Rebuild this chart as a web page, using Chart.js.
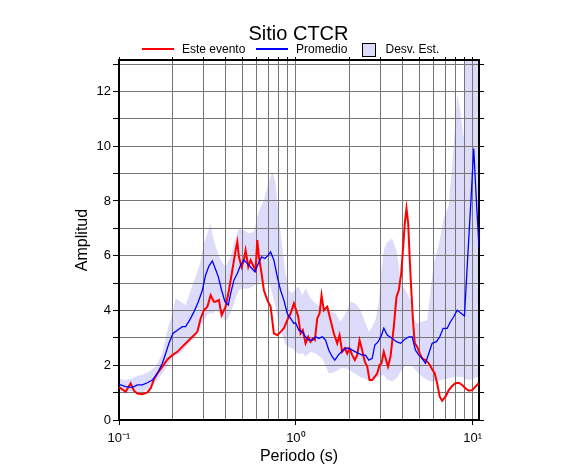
<!DOCTYPE html>
<html>
<head>
<meta charset="utf-8">
<script src="https://cdn.jsdelivr.net/npm/chart.js@4.4.0/dist/chart.umd.min.js"></script>
<style>
html,body{margin:0;padding:0;background:#fff;}
#wrap{width:586px;height:475px;position:relative;}
</style>
</head>
<body>
<div id="wrap"><canvas id="c" width="586" height="475"></canvas></div>
<script>
// ---------------- DATA ----------------
const chartTitle = 'Sitio CTCR';
const xTitle = 'Periodo (s)';
const yTitle = 'Amplitud';
const legendLabels = ['Este evento', 'Promedio', 'Desv. Est.'];

const xMin = 0.1, xMax = 10.85;
const yMin = 0, yMax = 13.15;
const xTickValues = [0.1,0.2,0.3,0.4,0.5,0.6,0.7,0.8,0.9,1,2,3,4,5,6,7,8,9,10];
const xMajorValues = [0.1, 1, 10];
const xMajorLabels = ['10\u207B\u00B9', '10\u2070', '10\u00B9'];
const yTickValues = [0,1,2,3,4,5,6,7,8,9,10,11,12,13];

// Este evento (red)
const periodsRed = [0.1,0.109,0.1164,0.1215,0.127,0.1356,0.1447,0.1511,0.1577,0.1648,0.1759,0.1877,0.2003,0.2138,0.2282,0.2435,0.2599,0.2773,0.2894,0.3021,0.3158,0.3297,0.3441,0.3518,0.3673,0.3804,0.4008,0.4184,0.4373,0.4564,0.4666,0.4764,0.4934,0.5083,0.5196,0.5382,0.5546,0.5789,0.5919,0.6051,0.618,0.64,0.6595,0.6893,0.7196,0.7512,0.7852,0.8196,0.8554,0.894,0.9334,0.9743,0.996,1.0317,1.063,1.0953,1.1345,1.175,1.2107,1.2474,1.2804,1.321,1.3611,1.3969,1.4393,1.5044,1.5704,1.6394,1.7135,1.7655,1.8285,1.8915,1.9515,2.011,2.083,2.154,2.223,2.291,2.372,2.454,2.532,2.609,2.702,2.795,2.884,2.971,3.048,3.141,3.318,3.428,3.579,3.707,3.819,3.94,4.044,4.129,4.221,4.315,4.406,4.504,4.605,4.702,4.851,5.018,5.177,5.404,5.641,5.896,6.099,6.293,6.51,6.716,7.012,7.32,7.65,7.986,8.336,8.713,9.094,9.493,9.922,10.36,10.81];
const ampRed = [1.20,1.03,1.34,1.07,0.97,0.94,1.01,1.16,1.49,1.70,1.95,2.21,2.37,2.49,2.68,2.86,3.04,3.22,3.71,4.01,4.14,4.56,4.32,4.32,4.38,3.83,4.14,4.74,5.47,6.20,6.51,5.96,5.59,5.84,6.20,5.59,5.84,5.59,5.47,6.57,5.96,5.35,4.74,4.38,4.14,3.16,3.10,3.22,3.35,3.65,3.89,4.26,4.08,3.77,3.16,3.28,2.80,3.04,2.86,2.98,2.92,3.71,3.89,4.56,4.01,4.14,3.65,3.16,2.80,3.10,2.49,2.62,2.43,2.62,2.37,2.19,2.37,2.92,2.55,2.13,1.95,1.46,1.46,1.58,1.70,2.01,2.07,2.49,1.95,2.31,3.41,4.50,4.74,5.35,6.33,7.18,7.73,7.18,5.84,4.62,3.53,2.80,2.68,2.43,2.25,2.19,2.07,1.85,1.70,1.34,0.85,0.70,0.85,1.09,1.24,1.34,1.36,1.28,1.16,1.07,1.09,1.22,1.34];

// Promedio (blue)
const periodsBlue = [0.1,0.109,0.119,0.127,0.1356,0.1447,0.1544,0.1648,0.1759,0.1836,0.1916,0.2019,0.2138,0.2282,0.2381,0.2508,0.2653,0.2809,0.296,0.3089,0.3225,0.3371,0.3518,0.3644,0.3804,0.3971,0.4151,0.4277,0.4464,0.4666,0.487,0.5083,0.5312,0.5546,0.5865,0.6131,0.64,0.6682,0.6984,0.7196,0.7512,0.7852,0.8196,0.8554,0.894,0.9334,0.9743,0.996,1.0398,1.0869,1.1345,1.1842,1.2377,1.2918,1.349,1.4102,1.4719,1.536,1.6055,1.661,1.736,1.8123,1.9093,1.993,2.083,2.175,2.27,2.372,2.476,2.585,2.702,2.795,2.921,3.048,3.141,3.284,3.505,3.707,3.904,4.113,4.348,4.546,4.746,4.954,5.177,5.404,5.641,5.896,6.235,6.51,6.805,7.167,7.482,7.811,8.164,8.522,8.977,9.371,9.795,10.13,10.49,10.85];
const ampBlue = [1.30,1.22,1.19,1.28,1.28,1.36,1.46,1.70,2.07,2.43,2.80,3.16,3.28,3.41,3.41,3.65,3.95,4.32,4.74,5.30,5.62,5.81,5.50,5.23,4.74,4.32,4.20,4.62,5.11,5.35,5.66,5.84,5.72,5.59,5.41,5.72,5.96,5.90,6.02,6.14,5.84,5.23,4.74,4.38,3.89,3.71,3.53,3.55,3.28,3.22,3.04,2.92,2.92,3.04,2.98,3.04,2.92,2.55,2.31,2.19,2.37,2.49,2.62,2.62,2.55,2.49,2.43,2.37,2.37,2.19,2.25,2.74,2.86,3.10,3.35,3.10,2.98,2.86,2.80,2.94,3.04,3.04,2.55,2.37,2.25,2.07,2.43,2.80,2.86,3.04,3.35,3.35,3.59,3.77,4.01,3.92,3.80,5.96,8.15,9.92,8.0,6.3];

// Desv. Est. band
const periodsBand = [0.1,0.1091,0.119,0.127,0.1356,0.1477,0.1612,0.1759,0.1877,0.2003,0.2091,0.2232,0.2381,0.2541,0.2712,0.2894,0.3021,0.3158,0.3297,0.3397,0.3518,0.3755,0.4008,0.4277,0.4564,0.4764,0.5083,0.5425,0.5789,0.6051,0.6317,0.6595,0.6893,0.7196,0.7356,0.7681,0.8016,0.8378,0.8745,0.913,0.9543,0.996,1.0398,1.0869,1.1345,1.2107,1.2918,1.4102,1.536,1.6762,1.7886,1.9093,2.037,2.175,2.321,2.476,2.585,2.702,2.82,2.944,3.048,3.141,3.284,3.505,3.741,3.904,4.167,4.446,4.642,4.851,5.177,5.525,5.768,6.021,6.427,6.859,7.32,7.65,7.986,8.164,8.522,8.897,9.034,9.705,10.36,10.85];
const bandUpper = [1.52,1.46,1.52,1.62,1.64,1.76,1.95,2.43,3.28,3.89,4.44,4.32,4.20,4.74,5.23,5.78,6.45,6.80,7.18,6.69,6.33,5.84,5.59,5.96,6.69,6.99,6.93,6.81,6.87,7.42,7.78,8.03,8.51,8.88,9.06,8.64,7.30,6.33,5.35,4.74,4.62,4.81,4.87,4.56,4.81,4.44,4.26,4.08,4.01,3.89,3.59,3.89,4.32,4.26,4.01,3.53,3.22,3.41,3.65,4.32,5.47,6.20,6.50,6.63,6.09,4.99,4.74,4.38,3.65,3.53,3.59,3.65,4.74,5.72,6.40,7.40,7.85,9.31,10.89,11.92,11.25,10.28,15,15,15,15];
const bandLower = [1.05,1.05,1.05,1.00,1.00,1.15,1.40,1.70,2.00,2.25,2.37,2.45,2.65,2.85,3.04,3.40,3.62,3.85,3.92,3.89,4.00,3.90,3.59,3.90,4.45,4.75,4.80,4.80,4.90,4.95,5.05,5.05,5.00,4.87,4.60,4.10,3.50,3.10,2.75,2.65,2.62,2.50,2.40,2.45,2.31,2.49,2.43,2.25,1.70,1.76,1.89,1.89,1.80,1.68,1.56,1.50,1.46,1.50,1.52,1.58,1.62,1.64,1.48,1.42,1.55,1.76,2.00,2.00,1.90,1.76,1.58,1.46,1.42,1.40,1.44,1.48,1.52,1.56,1.58,1.58,1.58,1.55,1.50,1.46,1.55,1.58];

// ---------------- STYLE ----------------
const FONT = "'Liberation Sans', Arial, Helvetica, sans-serif";
const RED = '#ff0000', BLUE = '#0000ff', BAND = 'rgb(220,220,250)', GRID = '#767676';
Chart.defaults.font.family = FONT;
Chart.defaults.color = '#000';

function pts(xs, ys) { return xs.map((x, i) => ({x: x, y: ys[i]})); }
function isMajorX(v) { return xMajorValues.some(m => Math.abs(m - v) < 1e-9); }
function xLabel(v) {
  const i = xMajorValues.findIndex(m => Math.abs(m - v) < 1e-9);
  return i >= 0 ? xMajorLabels[i] : '';
}

const legendPlugin = {
  id: 'gmtLegend',
  afterDraw(chart) {
    const ctx = chart.ctx;
    ctx.save();
    ctx.font = '12px ' + FONT;
    ctx.fillStyle = '#000';
    ctx.textBaseline = 'alphabetic';
    ctx.textAlign = 'left';
    ctx.strokeStyle = RED; ctx.lineWidth = 2;
    ctx.beginPath(); ctx.moveTo(142, 49); ctx.lineTo(174, 49); ctx.stroke();
    ctx.fillText(legendLabels[0], 182, 53);
    ctx.strokeStyle = BLUE; ctx.lineWidth = 2;
    ctx.beginPath(); ctx.moveTo(256, 49); ctx.lineTo(288, 49); ctx.stroke();
    ctx.fillText(legendLabels[1], 296, 53);
    ctx.fillStyle = BAND;
    ctx.fillRect(362.5, 43.5, 13, 13);
    ctx.strokeStyle = '#000'; ctx.lineWidth = 1;
    ctx.strokeRect(362.5, 43.5, 13, 13);
    ctx.fillStyle = '#000';
    ctx.fillText(legendLabels[2], 385.5, 53);
    ctx.restore();
  }
};

new Chart(document.getElementById('c'), {
  type: 'line',
  data: {
    datasets: [
      { label: 'upper', data: pts(periodsBand, bandUpper), borderWidth: 0, borderColor: 'transparent',
        pointRadius: 0, fill: '+1', backgroundColor: BAND, tension: 0 },
      { label: 'lower', data: pts(periodsBand, bandLower), borderWidth: 0, borderColor: 'transparent',
        pointRadius: 0, fill: false, tension: 0 },
      { label: legendLabels[1], data: pts(periodsBlue, ampBlue), borderColor: BLUE, borderWidth: 1.3,
        pointRadius: 0, fill: false, tension: 0 },
      { label: legendLabels[0], data: pts(periodsRed, ampRed), borderColor: RED, borderWidth: 2,
        pointRadius: 0, fill: false, tension: 0 }
    ]
  },
  options: {
    responsive: false,
    animation: false,
    devicePixelRatio: 1,
    events: [],
    layout: { padding: { left: 11, right: 0, top: 0, bottom: 0 } },
    plugins: {
      legend: { display: false },
      tooltip: { enabled: false },
      filler: { drawTime: 'beforeDraw' },
      title: {
        display: true, text: chartTitle, color: '#000',
        font: { size: 20, weight: 'normal', family: FONT, lineHeight: 1.2 },
        padding: { top: 22, bottom: 14 }
      }
    },
    scales: {
      x: {
        type: 'logarithmic', position: 'bottom', min: xMin, max: xMax,
        afterBuildTicks: s => { s.ticks = xTickValues.map(v => ({ value: v })); },
        afterFit: s => { s.height = 55; },
        ticks: { autoSkip: false, maxRotation: 0, minRotation: 0, padding: 6,
                 font: { size: 13 }, color: '#000', callback: v => xLabel(v) },
        grid: { color: GRID, lineWidth: 1, drawTicks: true, tickLength: 5,
                tickColor: c => (c.tick && isMajorX(c.tick.value)) ? '#000' : 'rgba(0,0,0,0)' },
        border: { display: true, color: '#000', width: 2 },
        title: { display: true, text: xTitle, color: '#000', font: { size: 16 }, padding: { top: 0, bottom: 9 } }
      },
      x2: {
        type: 'logarithmic', position: 'top', min: xMin, max: xMax,
        afterBuildTicks: s => { s.ticks = xTickValues.map(v => ({ value: v })); },
        afterFit: s => { s.height = 0; },
        ticks: { display: false, autoSkip: false },
        grid: { drawOnChartArea: false, drawTicks: true, tickLength: 3, tickColor: '#000' },
        border: { display: true, color: '#000', width: 2 }
      },
      y: {
        type: 'linear', position: 'left', min: yMin, max: yMax,
        afterBuildTicks: s => { s.ticks = yTickValues.map(v => ({ value: v })); },
        afterFit: s => { s.width = 108; },
        ticks: { autoSkip: false, padding: 2, font: { size: 13 }, color: '#000',
                 callback: v => (Math.round(v) % 2 === 0 ? String(Math.round(v)) : '') },
        grid: { color: GRID, lineWidth: 1, drawTicks: true, tickLength: 6, tickColor: '#000' },
        border: { display: true, color: '#000', width: 2 },
        title: { display: true, text: yTitle, color: '#000', font: { size: 16 }, padding: { top: 62, bottom: 0 } }
      },
      y2: {
        type: 'linear', position: 'right', min: yMin, max: yMax,
        afterBuildTicks: s => { s.ticks = yTickValues.map(v => ({ value: v })); },
        afterFit: s => { s.width = 107; },
        ticks: { display: false },
        grid: { drawOnChartArea: false, drawTicks: true, tickLength: 5, tickColor: '#000' },
        border: { display: true, color: '#000', width: 2 }
      }
    }
  },
  plugins: [legendPlugin]
});
</script>
</body>
</html>
